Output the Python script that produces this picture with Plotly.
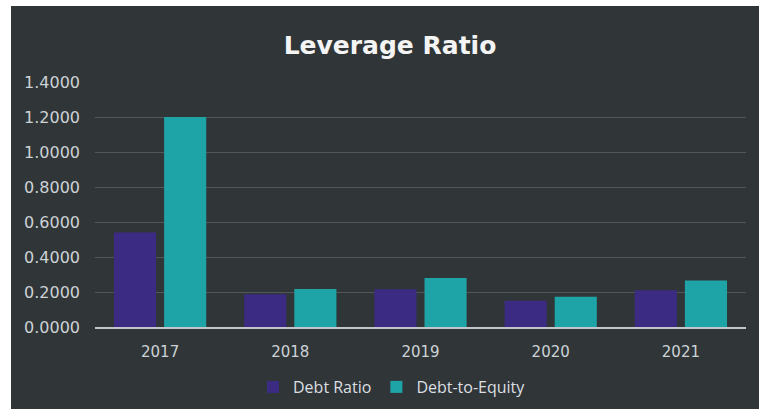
import plotly.graph_objects as go

years = ["2017", "2018", "2019", "2020", "2021"]
debt_ratio = [0.54, 0.187, 0.215, 0.150, 0.210]
debt_to_equity = [1.20, 0.217, 0.280, 0.173, 0.265]
y_ticks = [0.0, 0.2, 0.4, 0.6, 0.8, 1.0, 1.2, 1.4]
y_tick_labels = [f"{v:.4f}" for v in y_ticks]

BG = "#303638"
fig = go.Figure()
fig.add_trace(go.Bar(name="Debt Ratio", x=years, y=debt_ratio,
                     marker=dict(color="#3b2b82", line=dict(width=0))))
fig.add_trace(go.Bar(name="Debt-to-Equity", x=years, y=debt_to_equity,
                     marker=dict(color="#1ea4a7", line=dict(width=0))))

fig.update_layout(
    width=759, height=409,
    margin=dict(l=95, r=13, t=82, b=82, autoexpand=False),
    paper_bgcolor=BG, plot_bgcolor=BG,
    barmode="group", bargap=0.23, bargroupgap=0.16,
    title=dict(text="<b>Leverage Ratio</b>", x=390 / 759, xref="container", xanchor="center",
               y=1 - 45 / 409, yref="container", yanchor="middle",
               font=dict(family="DejaVu Sans", size=25, color="#f4f4f4")),
    font=dict(family="DejaVu Sans", size=15, color="#cdd2d6"),
    legend=dict(orientation="h", x=(392 - 95) / 651, xanchor="center",
                y=(327 - 387) / 245, yanchor="middle",
                font=dict(family="Open Sans", size=16, color="#dcdfe2"),
                bgcolor="rgba(0,0,0,0)", itemwidth=30, traceorder="normal"),
    xaxis=dict(showgrid=False, showline=True, linecolor="#c4c4cc", linewidth=2,
               tickfont=dict(family="DejaVu Sans", size=15, color="#cdd2d6"),
               ticks="", ticklabelstandoff=10, automargin=False),
    yaxis=dict(range=[0, 1.4], tickvals=y_ticks, ticktext=y_tick_labels,
               showgrid=True, gridcolor="rgba(160,165,170,0.3)", gridwidth=1,
               zeroline=False, showline=False, ticks="", ticklabelstandoff=14,
               automargin=False,
               tickfont=dict(family="DejaVu Sans", size=16, color="#cdd2d6")),
    shapes=[
        dict(type="rect", xref="paper", yref="paper",
             x0=-95 / 651, x1=(11 - 95) / 651, y0=-82 / 245, y1=1 + 82 / 245,
             fillcolor="white", line=dict(width=0), layer="above"),
        dict(type="rect", xref="paper", yref="paper",
             x0=-95 / 651, x1=1 + 13 / 651, y0=1 + (82 - 6) / 245, y1=1 + 82 / 245,
             fillcolor="white", line=dict(width=0), layer="above"),
    ],
)

fig.write_html("out.html")
